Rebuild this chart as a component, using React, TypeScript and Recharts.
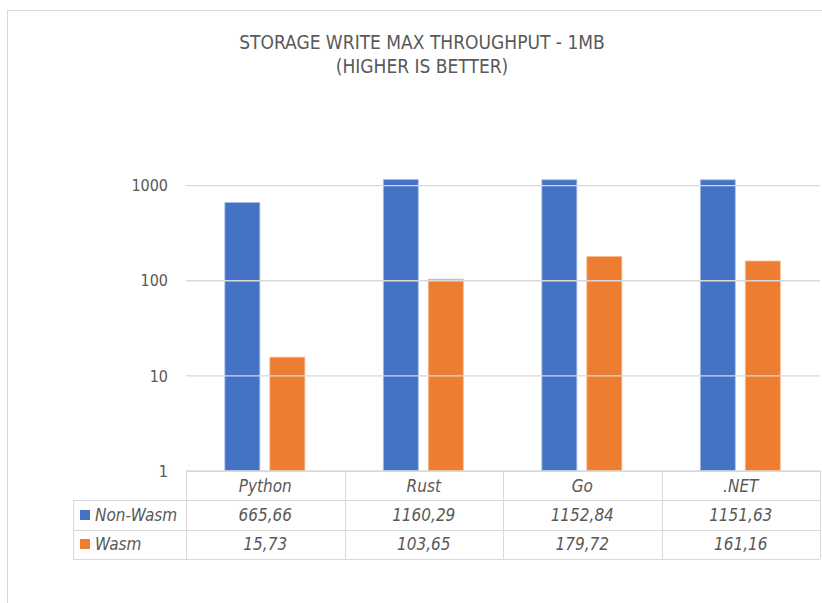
import { BarChart, Bar, XAxis, YAxis, ReferenceLine } from 'recharts'

const categories = ['Python', 'Rust', 'Go', '.NET']
const nonWasm = [665.66, 1160.29, 1152.84, 1151.63]
const wasm = [15.73, 103.65, 179.72, 161.16]
const yTicks = [1, 10, 100, 1000]

const BLUE = '#4472C4'
const ORANGE = '#ED7D31'
const TEXT = '#595959'
const GRID = '#d9d9d9'
const FONT = "'Liberation Sans Narrow', 'DejaVu Sans Condensed', 'Open Sans', sans-serif"

const data = categories.map((c, i) => ({ name: c, 'Non-Wasm': nonWasm[i], Wasm: wasm[i] }))

const fmt = (v: number) => v.toFixed(2).replace('.', ',')

const PLOT_LEFT = 186
const COL_W = 158.5
const LABEL_LEFT = 73

function DataTable() {
  const rows = [
    { label: 'Non-Wasm', color: BLUE, values: nonWasm },
    { label: 'Wasm', color: ORANGE, values: wasm },
  ]
  const cell: React.CSSProperties = {
    position: 'absolute',
    display: 'flex',
    alignItems: 'center',
    justifyContent: 'center',
    boxSizing: 'border-box',
    fontStyle: 'italic',
    fontSize: 17,
    color: TEXT,
    fontFamily: FONT,
  }
  const cells: React.ReactNode[] = []
  categories.forEach((c, i) => {
    cells.push(
      <div key={'h' + i} style={{ ...cell, left: PLOT_LEFT + i * COL_W, top: 471, width: COL_W, height: 29 }}>{c}</div>
    )
  })
  rows.forEach((r, ri) => {
    const top = 500 + ri * 29.5
    cells.push(
      <div key={'l' + ri} style={{ ...cell, justifyContent: 'flex-start', left: LABEL_LEFT, top, width: PLOT_LEFT - LABEL_LEFT, height: 29.5, paddingLeft: 7 }}>
        <span style={{ display: 'inline-block', width: 10, height: 10, background: r.color, marginRight: 5 }} />
        {r.label}
      </div>
    )
    r.values.forEach((v, i) => {
      cells.push(
        <div key={'v' + ri + i} style={{ ...cell, left: PLOT_LEFT + i * COL_W, top, width: COL_W, height: 29.5 }}>{fmt(v)}</div>
      )
    })
  })
  const lines: React.ReactNode[] = []
  lines.push(<div key="hl0" style={{ position: 'absolute', left: PLOT_LEFT, top: 471, width: 4 * COL_W, height: 1, background: GRID }} />)
  ;[500, 529.5, 559].forEach((y, i) => {
    lines.push(<div key={'hl' + (i + 1)} style={{ position: 'absolute', left: LABEL_LEFT, top: y, width: PLOT_LEFT - LABEL_LEFT + 4 * COL_W, height: 1, background: GRID }} />)
  })
  lines.push(<div key="vl0" style={{ position: 'absolute', left: LABEL_LEFT, top: 500, width: 1, height: 59, background: GRID }} />)
  for (let i = 0; i <= 4; i++) {
    lines.push(<div key={'vl' + (i + 1)} style={{ position: 'absolute', left: PLOT_LEFT + i * COL_W, top: 471, width: 1, height: 88, background: GRID }} />)
  }
  return <>{lines}{cells}</>
}

export default function App() {
  return (
    <div style={{ position: 'absolute', left: 0, top: 0, width: 822, height: 603, overflow: 'hidden', background: '#fff' }}>
      <div style={{ position: 'absolute', left: 7, top: 10, width: 840, height: 640, border: '1px solid #d9d9d9' }} />
      <div style={{ position: 'absolute', left: 0, top: 30, width: 844, textAlign: 'center', fontFamily: FONT, fontSize: 19, lineHeight: '24px', color: TEXT }}>
        STORAGE WRITE MAX THROUGHPUT - 1MB
        <br />
        (HIGHER IS BETTER)
      </div>
      <div style={{ position: 'absolute', left: 0, top: 0 }}>
        <BarChart
          width={822}
          height={603}
          data={data}
          margin={{ top: 157, right: 2, bottom: 132, left: 126 }}
          barCategoryGap="24.5%"
          barGap={10}
        >
          <XAxis dataKey="name" hide />
          <YAxis
            scale="log"
            domain={[1, 2000]}
            ticks={yTicks}
            allowDataOverflow
            width={60}
            axisLine={false}
            tickLine={false}
            tickSize={0}
            tickMargin={18}
            tick={{ fill: TEXT, fontSize: 16, fontFamily: FONT }}
          />
          {yTicks.map(t => (
            <ReferenceLine key={t} y={t} stroke={GRID} strokeWidth={1.3} />
          ))}
          <Bar dataKey="Non-Wasm" fill={BLUE} stroke="#a9c0e8" strokeWidth={0.8} isAnimationActive={false} />
          <Bar dataKey="Wasm" fill={ORANGE} stroke="#f5b98f" strokeWidth={0.8} isAnimationActive={false} />
        </BarChart>
      </div>
      <DataTable />
    </div>
  )
}
